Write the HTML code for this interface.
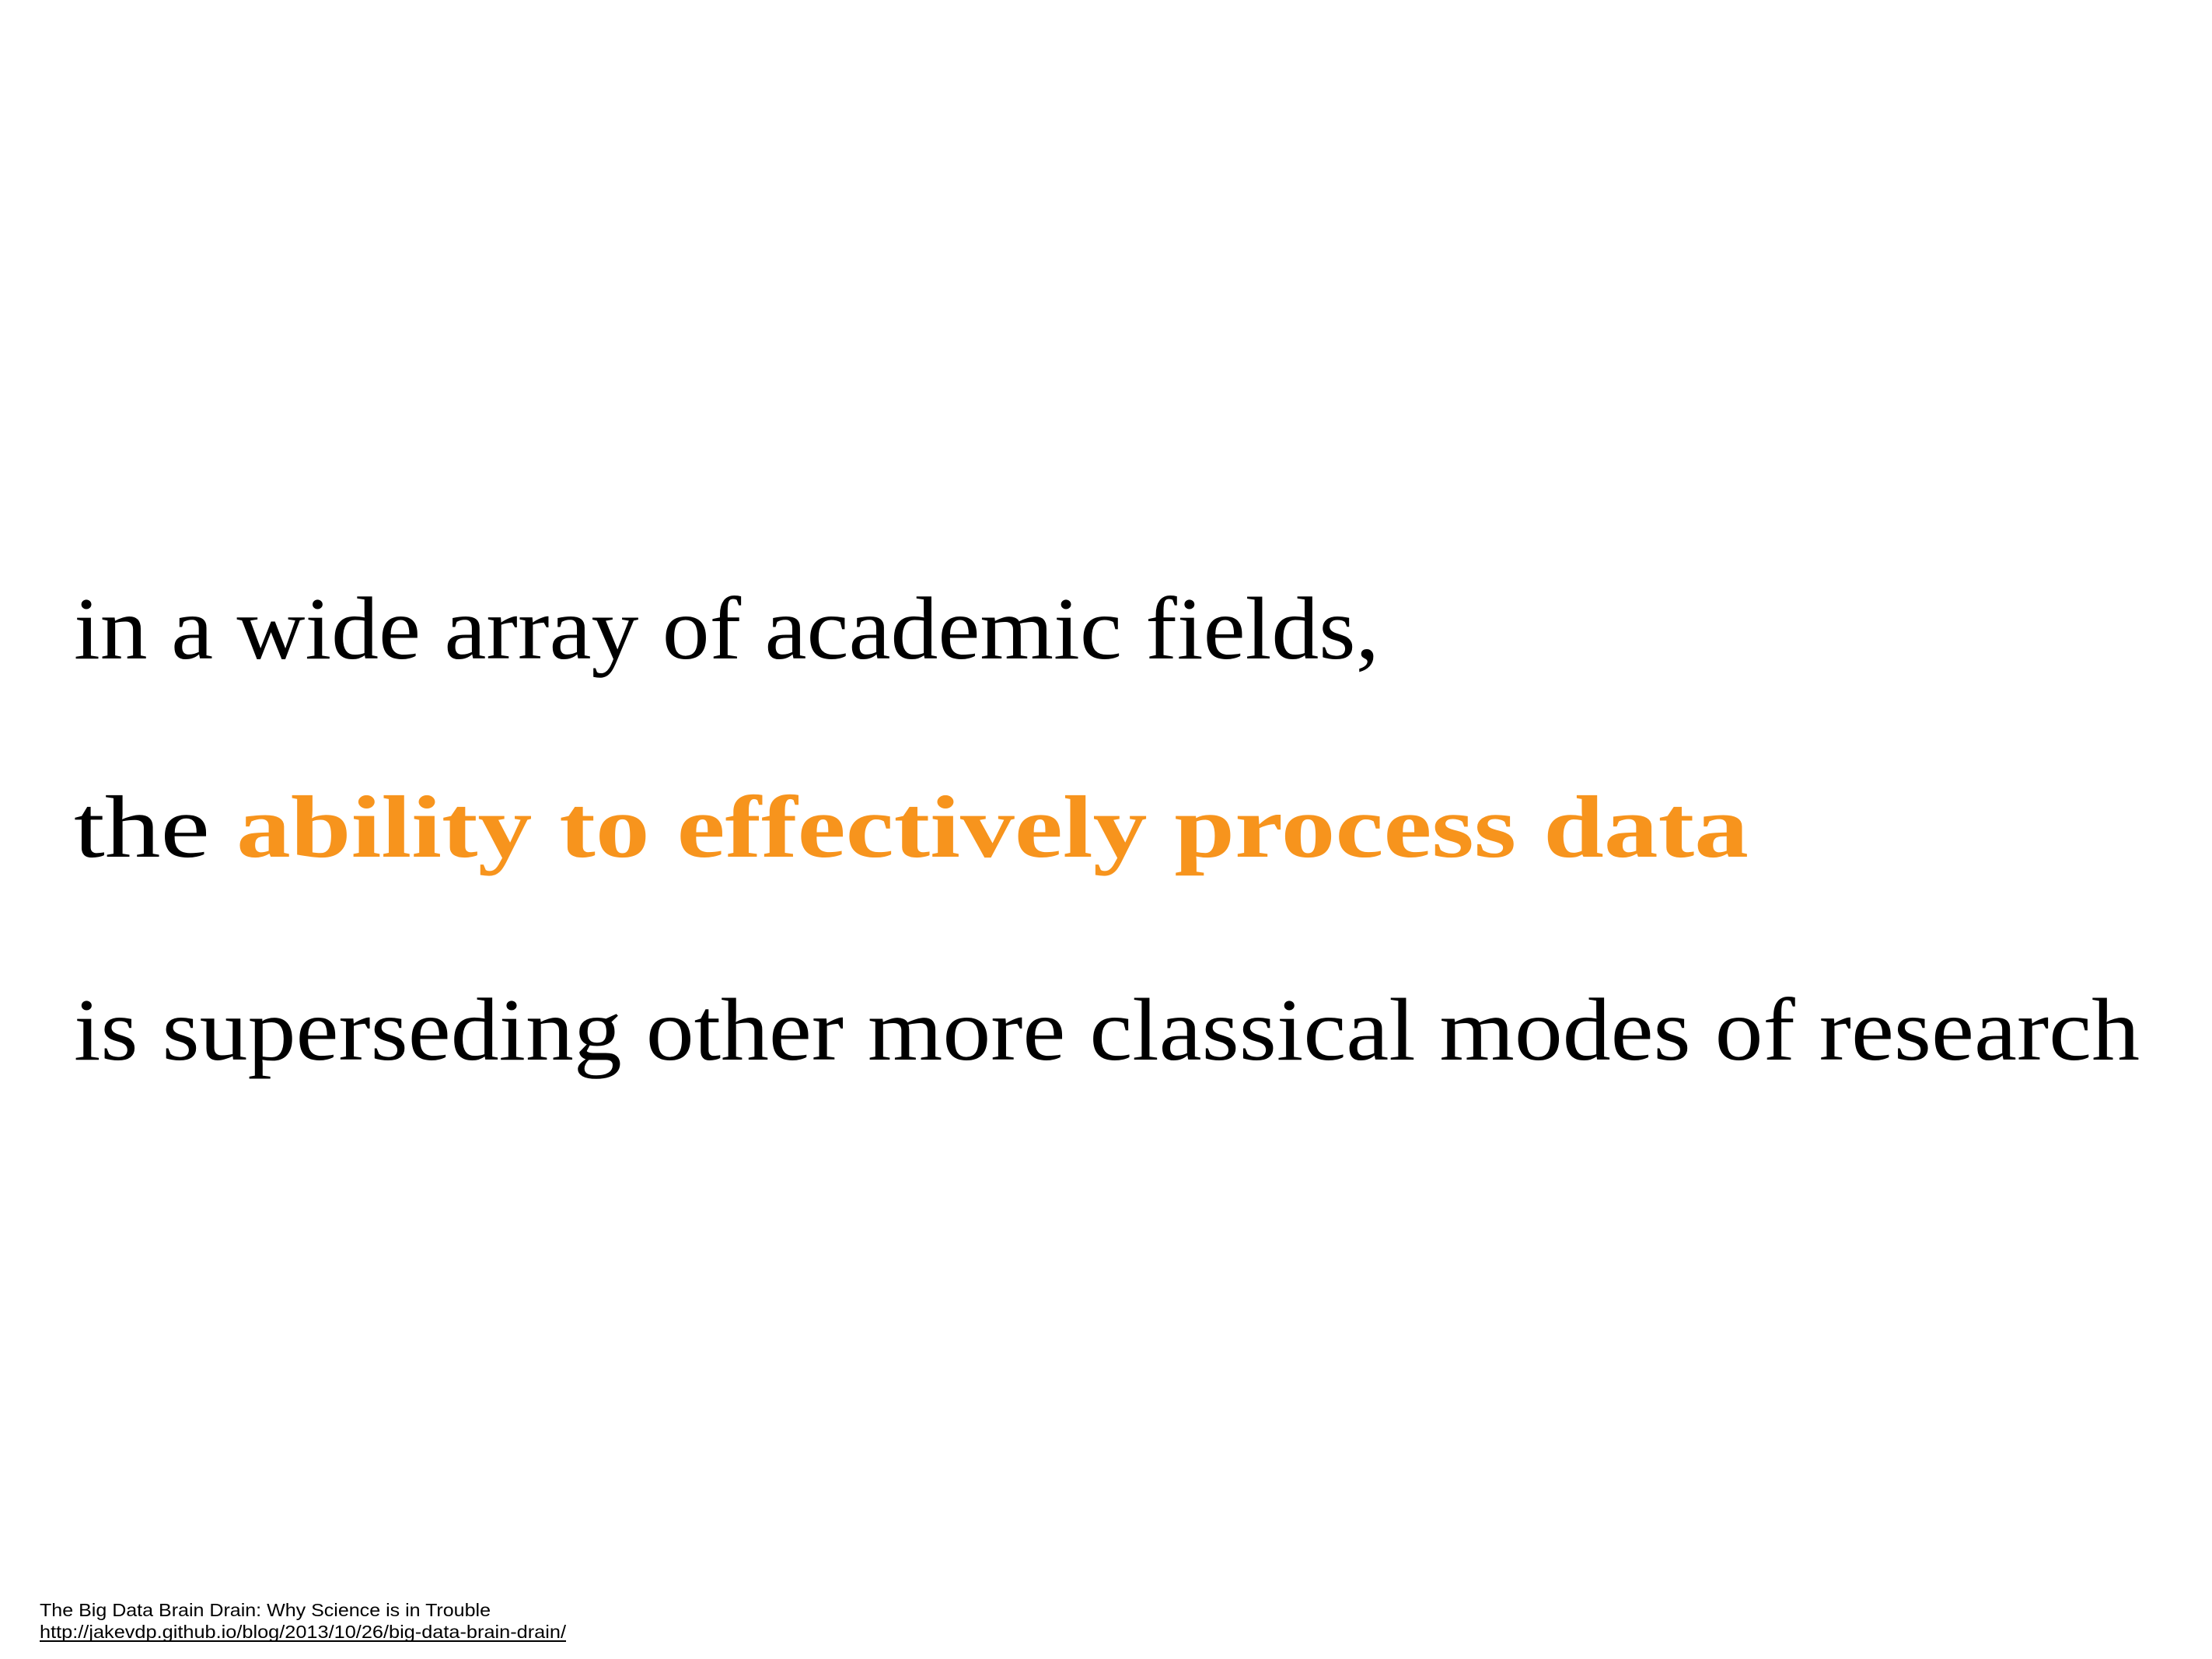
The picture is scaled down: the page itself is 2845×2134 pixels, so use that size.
<!DOCTYPE html>
<html>
<head>
<meta charset="utf-8">
<style>
  html, body { margin: 0; padding: 0; background: #fff; }
  svg { display: block; }
</style>
</head>
<body>
<svg width="2845" height="2134" viewBox="0 0 2845 2134" xmlns="http://www.w3.org/2000/svg">
  <rect width="2845" height="2134" fill="#ffffff"/>
  <text x="95" y="847" font-family="Liberation Serif, serif" font-size="114" fill="#000" textLength="1679" lengthAdjust="spacingAndGlyphs">in a wide array of academic fields,</text>
  <text y="1102" font-family="Liberation Serif, serif" font-size="114">
    <tspan x="95" fill="#000" textLength="175" lengthAdjust="spacingAndGlyphs">the</tspan>
    <tspan x="304" fill="#F7941D" font-weight="bold" textLength="1945" lengthAdjust="spacingAndGlyphs">ability to effectively process data</tspan>
  </text>
  <text x="95" y="1363" font-family="Liberation Serif, serif" font-size="114" fill="#000" textLength="2657" lengthAdjust="spacingAndGlyphs">is superseding other more classical modes of research</text>
  <text x="51" y="2079" font-family="Liberation Sans, sans-serif" font-size="23" fill="#000" textLength="580" lengthAdjust="spacingAndGlyphs">The Big Data Brain Drain: Why Science is in Trouble</text>
  <text x="51" y="2107" font-family="Liberation Sans, sans-serif" font-size="23" fill="#000" textLength="677" lengthAdjust="spacingAndGlyphs">http://jakevdp.github.io/blog/2013/10/26/big-data-brain-drain/</text>
  <line x1="51" y1="2111" x2="728" y2="2111" stroke="#000" stroke-width="2"/>
</svg>
</body>
</html>
